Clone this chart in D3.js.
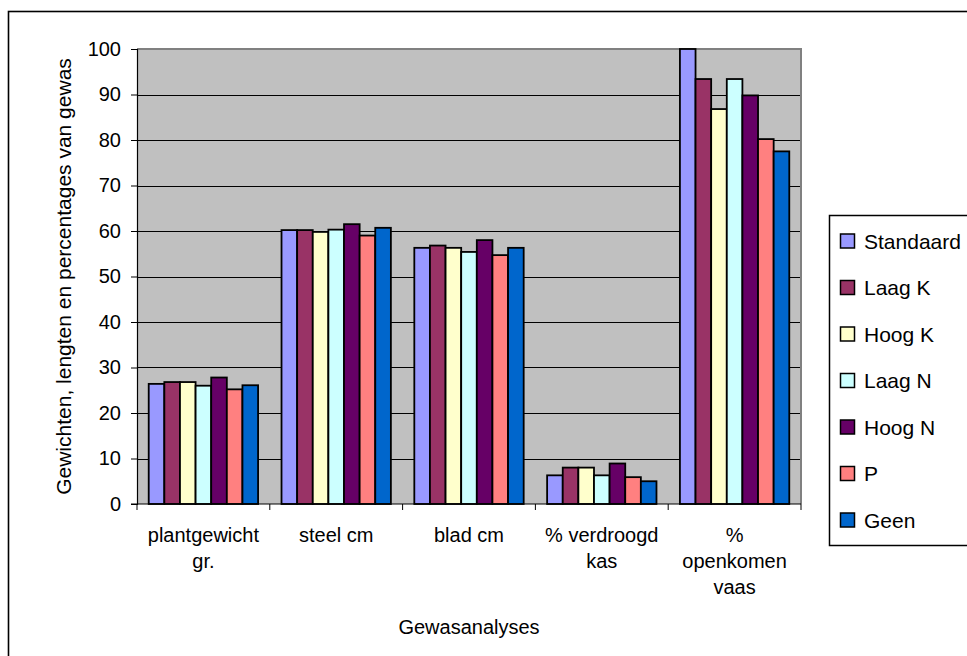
<!DOCTYPE html>
<html>
<head>
<meta charset="utf-8">
<script src="https://cdn.jsdelivr.net/npm/d3@7"></script>
<style>
  html, body { margin: 0; padding: 0; background: #fff; }
  svg { display: block; font-family: "Liberation Sans", Arial, sans-serif; }
</style>
</head>
<body>
<svg id="chart" width="967" height="656"></svg>
<script>
// Crop analyses per treatment
const categories = [
  ["plantgewicht", "gr."],
  ["steel cm"],
  ["blad cm"],
  ["% verdroogd", "kas"],
  ["%", "openkomen", "vaas"]
];
const seriesNames = ["Standaard", "Laag K", "Hoog K", "Laag N", "Hoog N", "P", "Geen"];
const seriesColors = ["#9999FF", "#993366", "#FFFFCC", "#CCFFFF", "#660066", "#FF8080", "#0066CC"];
const standaard = [26.4, 60.2, 56.3, 6.3, 100.0];
const laagK     = [26.8, 60.2, 56.8, 8.0, 93.4];
const hoogK     = [26.8, 59.8, 56.3, 8.0, 86.8];
const laagN     = [26.0, 60.3, 55.4, 6.3, 93.4];
const hoogN     = [27.8, 61.5, 58.0, 8.9, 89.8];
const pSeries   = [25.2, 59.0, 54.7, 5.9, 80.2];
const geen      = [26.1, 60.7, 56.3, 5.0, 77.5];
const seriesValues = [standaard, laagK, hoogK, laagN, hoogN, pSeries, geen];
const yTicks = [0, 10, 20, 30, 40, 50, 60, 70, 80, 90, 100];
const yTitle = "Gewichten, lengten en percentages van gewas";
const xTitle = "Gewasanalyses";

const svg = d3.select("#chart");
const plot = { left: 137, right: 801, top: 49, bottom: 504 };

// outer chart frame
svg.append("rect")
  .attr("x", 8.5).attr("y", 11.5)
  .attr("width", 1000).attr("height", 700)
  .attr("fill", "#fff").attr("stroke", "#000").attr("stroke-width", 1.6);

const x0 = d3.scaleBand()
  .domain(d3.range(categories.length))
  .range([plot.left, plot.right])
  .paddingInner(0).paddingOuter(0);

// gap width 150% of a bar on each group
const nS = seriesNames.length;
const barW = x0.bandwidth() / (nS + 1.5);
const x1 = d3.scaleBand()
  .domain(d3.range(nS))
  .range([barW * 0.75, x0.bandwidth() - barW * 0.75])
  .padding(0);

const y = d3.scaleLinear().domain([0, 100]).range([plot.bottom, plot.top]);

// plot area
svg.append("rect")
  .attr("x", plot.left).attr("y", plot.top)
  .attr("width", plot.right - plot.left).attr("height", plot.bottom - plot.top)
  .attr("fill", "#C0C0C0");

// gridlines
svg.append("g")
  .selectAll("line")
  .data(yTicks.filter(t => t > 0 && t < 100))
  .join("line")
  .attr("x1", plot.left).attr("x2", plot.right)
  .attr("y1", d => Math.round(y(d)) + 0.5).attr("y2", d => Math.round(y(d)) + 0.5)
  .attr("stroke", "#000").attr("stroke-width", 1);

// plot area border (top and right)
svg.append("path")
  .attr("d", `M${plot.left},${plot.top} H${plot.right} V${plot.bottom}`)
  .attr("fill", "none").attr("stroke", "#808080").attr("stroke-width", 2);

// bars
const groups = svg.append("g").selectAll("g")
  .data(categories.map((c, i) => i))
  .join("g")
  .attr("transform", i => `translate(${x0(i)},0)`);

groups.selectAll("rect")
  .data(i => seriesValues.map((vals, s) => ({ s, v: vals[i] })))
  .join("rect")
  .attr("x", d => x1(d.s))
  .attr("width", x1.bandwidth())
  .attr("y", d => y(d.v))
  .attr("height", d => y(0) - y(d.v))
  .attr("fill", d => seriesColors[d.s])
  .attr("stroke", "#000").attr("stroke-width", 1.8);

// y axis
const yAxis = d3.axisLeft(y).tickValues(yTicks).tickSize(6).tickPadding(10);
const gy = svg.append("g")
  .attr("transform", `translate(${plot.left},0)`)
  .call(yAxis);
gy.select(".domain").attr("stroke", "#000").attr("stroke-width", 1.2);
gy.selectAll(".tick line").attr("stroke", "#000");
gy.selectAll(".tick text")
  .attr("font-size", 20).attr("font-family", "Liberation Sans, Arial, sans-serif")
  .attr("fill", "#000");

// x axis with ticks on group boundaries
const xAxisLine = svg.append("g");
xAxisLine.append("line")
  .attr("x1", plot.left - 6).attr("x2", plot.right)
  .attr("y1", y(0)).attr("y2", y(0))
  .attr("stroke", "#000").attr("stroke-width", 1.2);
xAxisLine.selectAll("line.tick")
  .data(d3.range(categories.length + 1))
  .join("line").attr("class", "tick")
  .attr("x1", i => i < categories.length ? x0(i) : plot.right)
  .attr("x2", i => i < categories.length ? x0(i) : plot.right)
  .attr("y1", y(0)).attr("y2", y(0) + 6)
  .attr("stroke", "#000").attr("stroke-width", 1);

// category labels
const labels = svg.append("g")
  .selectAll("text")
  .data(categories.map((c, i) => ({ c, i })))
  .join("text")
  .attr("x", d => x0(d.i) + x0.bandwidth() / 2)
  .attr("y", 542)
  .attr("text-anchor", "middle")
  .attr("font-size", 20)
  .attr("fill", "#000");
labels.selectAll("tspan")
  .data(d => d.c.map(line => ({ line, x: x0(d.i) + x0.bandwidth() / 2 })))
  .join("tspan")
  .attr("x", d => d.x)
  .attr("dy", (d, k) => k === 0 ? 0 : 26)
  .text(d => d.line);

// axis titles
svg.append("text")
  .attr("x", (plot.left + plot.right) / 2).attr("y", 634)
  .attr("text-anchor", "middle").attr("font-size", 20).attr("fill", "#000")
  .text(xTitle);

svg.append("text")
  .attr("transform", `translate(71,${(plot.top + plot.bottom) / 2}) rotate(-90)`)
  .attr("text-anchor", "middle").attr("font-size", 21).attr("fill", "#000")
  .text(yTitle);

// legend
const legend = svg.append("g");
legend.append("rect")
  .attr("x", 829.5).attr("y", 215.5)
  .attr("width", 200).attr("height", 330)
  .attr("fill", "#fff").attr("stroke", "#000").attr("stroke-width", 1.5);
const items = legend.selectAll("g.item")
  .data(seriesNames.map((n, i) => ({ n, i })))
  .join("g").attr("class", "item")
  .attr("transform", d => `translate(840,${241 + d.i * 46.5})`);
items.append("rect")
  .attr("x", 0.5).attr("y", -7)
  .attr("width", 14).attr("height", 14)
  .attr("fill", d => seriesColors[d.i])
  .attr("stroke", "#000").attr("stroke-width", 1.5);
items.append("text")
  .attr("x", 24).attr("y", 0).attr("dy", "0.36em")
  .attr("font-size", 21).attr("fill", "#000")
  .text(d => d.n);
</script>
</body>
</html>
